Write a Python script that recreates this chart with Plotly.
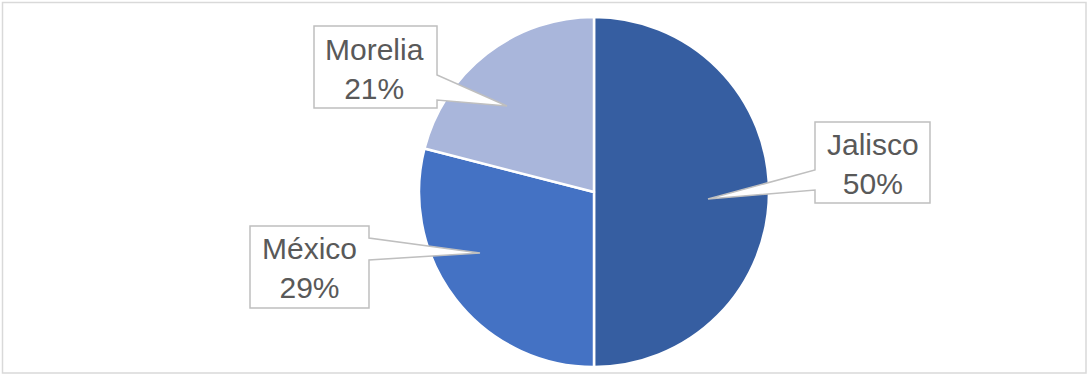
import plotly.graph_objects as go

labels = ["Jalisco", "México", "Morelia"]
values = [50, 29, 21]
colors = ["#365EA1", "#4472C4", "#A9B6DB"]

W, H = 1089, 377

def px(x, y):
    return x / W, 1 - y / H

def path(points):
    pts = [px(x, y) for x, y in points]
    return "M " + " L ".join(f"{a:.5f},{b:.5f}" for a, b in pts) + " Z"

# callout outlines (label decoration geometry, in pixels)
callouts = {
    "Morelia": [(314, 26), (437, 26), (437, 75), (507, 106), (437, 100), (437, 108), (314, 108)],
    "Jalisco": [(815, 122), (930, 122), (930, 203), (815, 203), (815, 190), (708, 199), (815, 170)],
    "México": [(250, 226), (369, 226), (369, 238), (480, 253), (369, 260), (369, 308), (250, 308)],
}
centers = {"Morelia": (374, 68.5), "Jalisco": (872.5, 163.5), "México": (309.5, 268)}

fig = go.Figure(go.Pie(
    labels=labels, values=values, sort=False, direction="clockwise", rotation=0,
    marker=dict(colors=colors, line=dict(color="white", width=2.5)),
    textinfo="none", hoverinfo="label+percent",
    domain=dict(x=[(594 - 175) / W, (594 + 175) / W], y=[1 - 367 / H, 1 - 17 / H]),
    showlegend=False,
))

shapes = [dict(type="rect", xref="paper", yref="paper",
               x0=2.5 / W, x1=1086 / W, y0=1 - 373 / H, y1=1 - 2.5 / H,
               line=dict(color="#D9D9D9", width=1.5), layer="below")]
annotations = []
total = sum(values)
for lab, val in zip(labels, values):
    shapes.append(dict(type="path", xref="paper", yref="paper", path=path(callouts[lab]),
                       fillcolor="white", line=dict(color="#BFBFBF", width=1.5), layer="above"))
    cx, cy = px(*centers[lab])
    annotations.append(dict(x=cx, y=cy, xref="paper", yref="paper", showarrow=False,
                            text=f"{lab}<br>{round(val / total * 100)}%",
                            font=dict(family="Liberation Sans, Arial", size=30, color="#595959"),
                            xanchor="center", yanchor="middle"))

fig.update_layout(width=W, height=H, margin=dict(l=0, r=0, t=0, b=0),
                  paper_bgcolor="white", plot_bgcolor="white",
                  shapes=shapes, annotations=annotations)
fig.write_html("out.html", config={"displayModeBar": False},
               post_script="document.body.style.margin='0';document.body.style.overflow='hidden';")
